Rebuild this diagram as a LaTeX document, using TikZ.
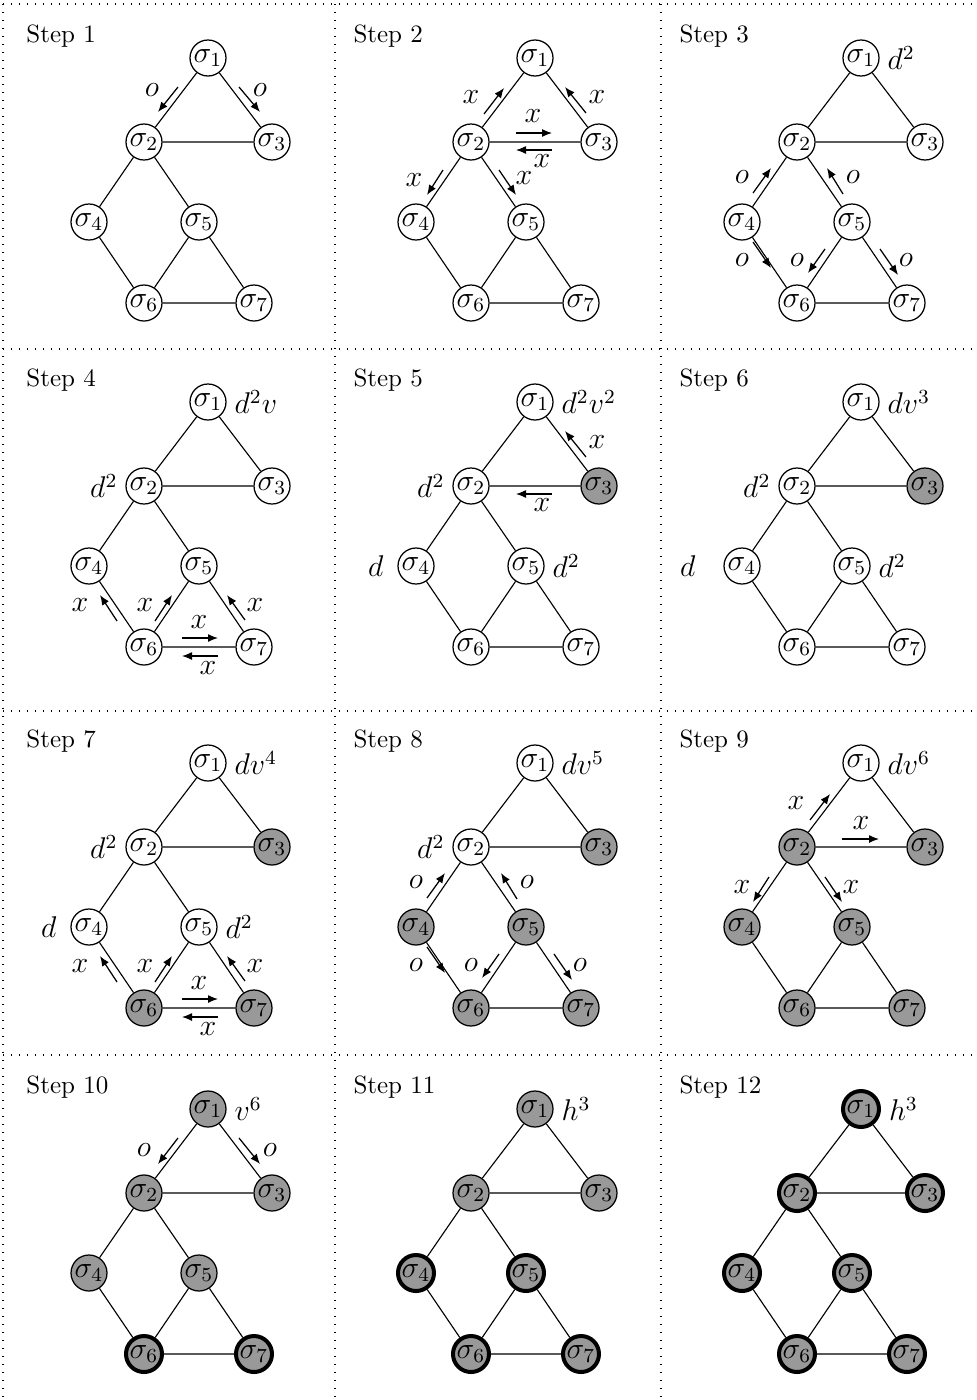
\documentclass[tikz,border=0pt]{standalone}
\usetikzlibrary{arrows.meta,calc}
\newcounter{lb}
\newcommand\sgraph[8]{%
 \node[#2] (#1-1) at (64,-84) {$\sigma_1$};
 \node[#3] (#1-2) at (0,0) {$\sigma_2$};
 \node[#4] (#1-3) at (128,0) {$\sigma_3$};
 \node[#5] (#1-4) at (-55,80) {$\sigma_4$};
 \node[#6] (#1-5) at (55,80) {$\sigma_5$};
 \node[#7] (#1-6) at (0,161) {$\sigma_6$};
 \node[#8] (#1-7) at (110,161) {$\sigma_7$};
 \draw[edge] (#1-1)--(#1-2) (#1-1)--(#1-3) (#1-2)--(#1-3) (#1-2)--(#1-4) (#1-2)--(#1-5)
   (#1-4)--(#1-6) (#1-5)--(#1-6) (#1-5)--(#1-7) (#1-6)--(#1-7);
}
\def\arrw(#1)(#2)(#3)#4{\draw[flow] (#1) -- (#2);\stepcounter{lb}\node[lab] (lb\thelb) at (#3) {$#4$};}
\newcommand\rlab[2]{\stepcounter{lb}\node[mathlab,anchor=west] (lb\thelb) at (#1.east) {$#2$};}
\newcommand\llab[3][0]{\stepcounter{lb}\node[mathlab,anchor=east,xshift=-#1*0.4pt] (lb\thelb) at (#2.west) {$#3$};}
\newcommand\steplabel[2]{\node[steplab] (#1-t) at (-118,-100) {Step #2};}
\begin{document}
\begin{tikzpicture}[x=0.4pt,y=-0.4pt,
  mfont/.style={font=\fontsize{12}{14}\selectfont},
  sn/.style={circle,draw,line width=0.5pt,minimum size=14.4pt,inner sep=0pt,fill=white,mfont},
  gn/.style={sn,fill=black!40},
  tn/.style={gn,line width=1.6pt},
  edge/.style={line width=0.45pt},
  flow/.style={line width=0.5pt,-{Latex[length=4pt,width=3.2pt]}},
  lab/.style={inner sep=0pt,mfont},
  mathlab/.style={inner sep=3pt,mfont},
  gridline/.style={line width=0.45pt,dash pattern=on 0.5pt off 2.7pt},
  steplab/.style={anchor=base west,inner sep=0pt}]
\useasboundingbox (0,0) rectangle (977,1400);
% grid
\draw[gridline] (3,4) -- (977,4) (3,349) -- (977,349) (3,711) -- (977,711) (3,1055) -- (977,1055)
  (3,4) -- (3,1400) (335,4) -- (335,1400) (661,4) -- (661,1400);
% Step 1
\begin{scope}[shift={(144,142)}]
 \sgraph{a}{sn}{sn}{sn}{sn}{sn}{sn}{sn}
 \steplabel{a}{1}
 \arrw(34,-55)(14,-30)(8,-52){o}
 \arrw(95,-55)(116,-30)(116,-52){o}
\end{scope}
% Step 2
\begin{scope}[shift={(471,142)}]
 \sgraph{b}{sn}{sn}{sn}{sn}{sn}{sn}{sn}
 \steplabel{b}{2}
 \arrw(13,-28)(33,-54)(0,-45){x}
 \arrw(115,-29)(94,-55)(126,-45){x}
 \arrw(45,-9)(81,-9)(62,-26){x}
 \arrw(81,8)(45,8)(71,19){x}
 \arrw(-28,28)(-44,53)(-57,38){x}
 \arrw(28,28)(45,53)(53,36){x}
\end{scope}
% Step 3
\begin{scope}[shift={(797,142)}]
 \sgraph{c}{sn}{sn}{sn}{sn}{sn}{sn}{sn}
 \steplabel{c}{3}
 \rlab{c-1}{d^2}
 \arrw(-44,51)(-26,26)(-55,35){o}
 \arrw(46,52)(30,26)(56,35){o}
 \arrw(-44,100)(-26,126)(-55,118){o}
 \arrw(28,107)(11,131)(0,118){o}
 \arrw(83,107)(101,133)(109,118){o}
\end{scope}
% Step 4
\begin{scope}[shift={(144,486)}]
 \sgraph{d}{sn}{sn}{sn}{sn}{sn}{sn}{sn}
 \steplabel{d}{4}
 \rlab{d-1}{d^2v}
 \llab{d-2}{d^2}
 \arrw(-27,135)(-44,109)(-64,119){x}
 \arrw(11,135)(28,109)(1,119){x}
 \arrw(101,134)(83,109)(111,119){x}
 \arrw(38,152)(74,152)(55,136){x}
 \arrw(74,170)(38,170)(64,182){x}
\end{scope}
% Step 5
\begin{scope}[shift={(471,486)}]
 \sgraph{e}{sn}{sn}{gn}{sn}{sn}{sn}{sn}
 \steplabel{e}{5}
 \rlab{e-1}{d^2v^2}
 \llab{e-2}{d^2}
 \llab[6]{e-4}{d}
 \rlab{e-5}{d^2}
 \arrw(115,-29)(94,-55)(126,-44){x}
 \arrw(81,8)(45,8)(71,19){x}
\end{scope}
% Step 6
\begin{scope}[shift={(797,486)}]
 \sgraph{f}{sn}{sn}{gn}{sn}{sn}{sn}{sn}
 \steplabel{f}{6}
 \rlab{f-1}{dv^3}
 \llab{f-2}{d^2}
 \llab[20]{f-4}{d}
 \rlab{f-5}{d^2}
\end{scope}
% Step 7
\begin{scope}[shift={(144,847)}]
 \sgraph{g}{sn}{sn}{gn}{sn}{sn}{gn}{gn}
 \steplabel{g}{7}
 \rlab{g-1}{dv^4}
 \llab{g-2}{d^2}
 \llab[6]{g-4}{d}
 \rlab{g-5}{d^2}
 \arrw(-27,135)(-44,109)(-64,119){x}
 \arrw(11,135)(28,109)(1,119){x}
 \arrw(101,134)(83,109)(111,119){x}
 \arrw(38,152)(74,152)(55,136){x}
 \arrw(74,170)(38,170)(64,182){x}
\end{scope}
% Step 8
\begin{scope}[shift={(471,847)}]
 \sgraph{h}{sn}{sn}{gn}{gn}{gn}{gn}{gn}
 \steplabel{h}{8}
 \rlab{h-1}{dv^5}
 \llab{h-2}{d^2}
 \arrw(-44,51)(-26,26)(-55,35){o}
 \arrw(46,52)(30,26)(56,35){o}
 \arrw(-44,100)(-26,126)(-55,118){o}
 \arrw(28,107)(11,131)(0,118){o}
 \arrw(83,107)(101,133)(109,118){o}
\end{scope}
% Step 9
\begin{scope}[shift={(797,847)}]
 \sgraph{i}{sn}{gn}{gn}{gn}{gn}{gn}{gn}
 \steplabel{i}{9}
 \rlab{i-1}{dv^6}
 \arrw(13,-27)(33,-53)(-1,-44){x}
 \arrw(45,-8)(82,-8)(64,-24){x}
 \arrw(-28,30)(-44,55)(-55,40){x}
 \arrw(28,30)(45,55)(54,40){x}
\end{scope}
% Step 10
\begin{scope}[shift={(144,1193)}]
 \sgraph{j}{gn}{gn}{gn}{gn}{gn}{tn}{tn}
 \steplabel{j}{10}
 \rlab{j-1}{v^6}
 \arrw(34,-55)(14,-29)(0,-43){o}
 \arrw(95,-55)(116,-29)(126,-43){o}
\end{scope}
% Step 11
\begin{scope}[shift={(471,1193)}]
 \sgraph{k}{gn}{gn}{gn}{tn}{tn}{tn}{tn}
 \steplabel{k}{11}
 \rlab{k-1}{h^3}
\end{scope}
% Step 12
\begin{scope}[shift={(797,1193)}]
 \sgraph{l}{tn}{tn}{tn}{tn}{tn}{tn}{tn}
 \steplabel{l}{12}
 \rlab{l-1}{h^3}
\end{scope}
\end{tikzpicture}
\end{document}
